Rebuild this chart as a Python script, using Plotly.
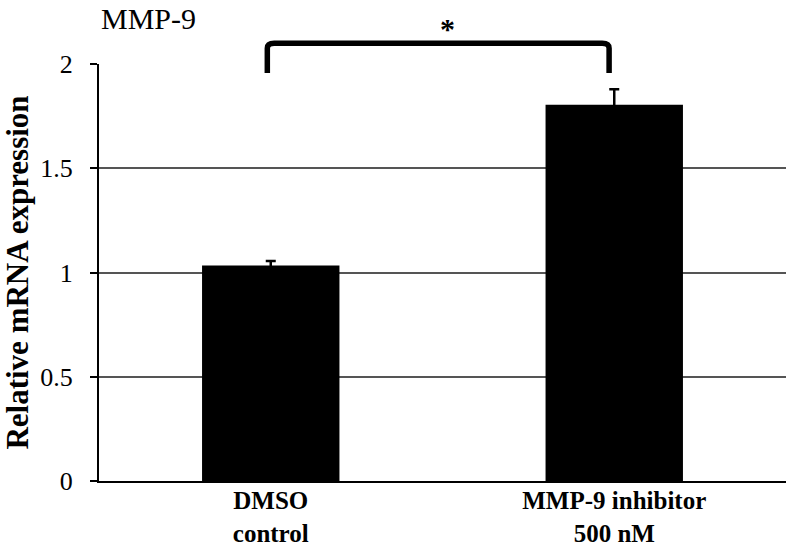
import plotly.graph_objects as go

# values
groups = ["DMSO<br>control", "MMP-9 inhibitor<br>500 nM"]
expression = [1.033, 1.805]
err_sd = [0.022, 0.074]

y_ticks = [0, 0.5, 1, 1.5, 2]
y_tick_text = ["0", "0.5", "1", "1.5", "2"]
y_max = 2

# significance bracket (category positions / expression units)
bracket_x = [-0.01, 0.985]
bracket_top = 2.10
bracket_end = 1.957
star_x = 0.515
star_y = 2.17

fig = go.Figure()
fig.add_trace(go.Bar(
    x=[0, 1], y=expression,
    width=0.4,
    marker=dict(color="black", line=dict(width=0)),
    error_y=dict(type="data", array=err_sd, symmetric=True,
                 color="black", thickness=2.5, width=5),
    showlegend=False))

# bracket drawn in x data coords, y in paper (range 0..y_max -> 0..1)
x0, x1 = bracket_x
yt = bracket_top / y_max
yb = bracket_end / y_max
rx, ry = 0.02, 0.012
path = (f"M {x0},{yb} L {x0},{yt - ry} Q {x0},{yt} {x0 + rx},{yt} "
        f"L {x1 - rx},{yt} Q {x1},{yt} {x1},{yt - ry} L {x1},{yb}")
fig.add_shape(type="path", path=path, xref="x", yref="paper",
              line=dict(color="black", width=5.5))

fig.add_annotation(x=star_x, y=star_y / y_max, xref="x", yref="paper",
                   text="<b>*</b>", showarrow=False, yanchor="middle",
                   font=dict(family="Liberation Serif", size=30, color="black"))
fig.add_annotation(x=0, y=1.11, xref="paper", yref="paper",
                   text="MMP-9", showarrow=False, xanchor="left", yanchor="middle",
                   font=dict(family="Liberation Serif", size=30, color="black"))

fig.update_layout(
    width=786, height=551,
    margin=dict(l=99, r=0, t=64, b=70),
    plot_bgcolor="white", paper_bgcolor="white",
    font=dict(family="Liberation Serif", color="black"),
    bargap=0.6,
)
fig.update_xaxes(
    range=[-0.5, 1.5],
    tickvals=[0, 1], ticktext=["<b>" + g.replace("<br>", "</b><br><b>") + "</b>" for g in groups],
    tickfont=dict(size=25, family="Liberation Serif"),
    ticklabelstandoff=-4,
    showline=True, linecolor="black", linewidth=2,
    showgrid=False, ticks="", zeroline=False)
fig.update_yaxes(
    range=[0, y_max],
    tickvals=y_ticks, ticktext=y_tick_text,
    tickfont=dict(size=26, family="Liberation Serif"),
    ticks="outside", ticklen=7, tickwidth=2, tickcolor="black",
    ticklabelstandoff=12,
    showline=True, linecolor="black", linewidth=2,
    showgrid=True, gridcolor="#555555", gridwidth=1.5,
    zeroline=False,
    title=dict(text="<b>Relative mRNA expression</b>", standoff=18,
               font=dict(size=31, family="Liberation Serif")))

# page body has a default margin; drop it so the figure sits at the corner
fig.write_html("out.html", config={"displayModeBar": False},
               post_script="document.body.style.margin='0';")
